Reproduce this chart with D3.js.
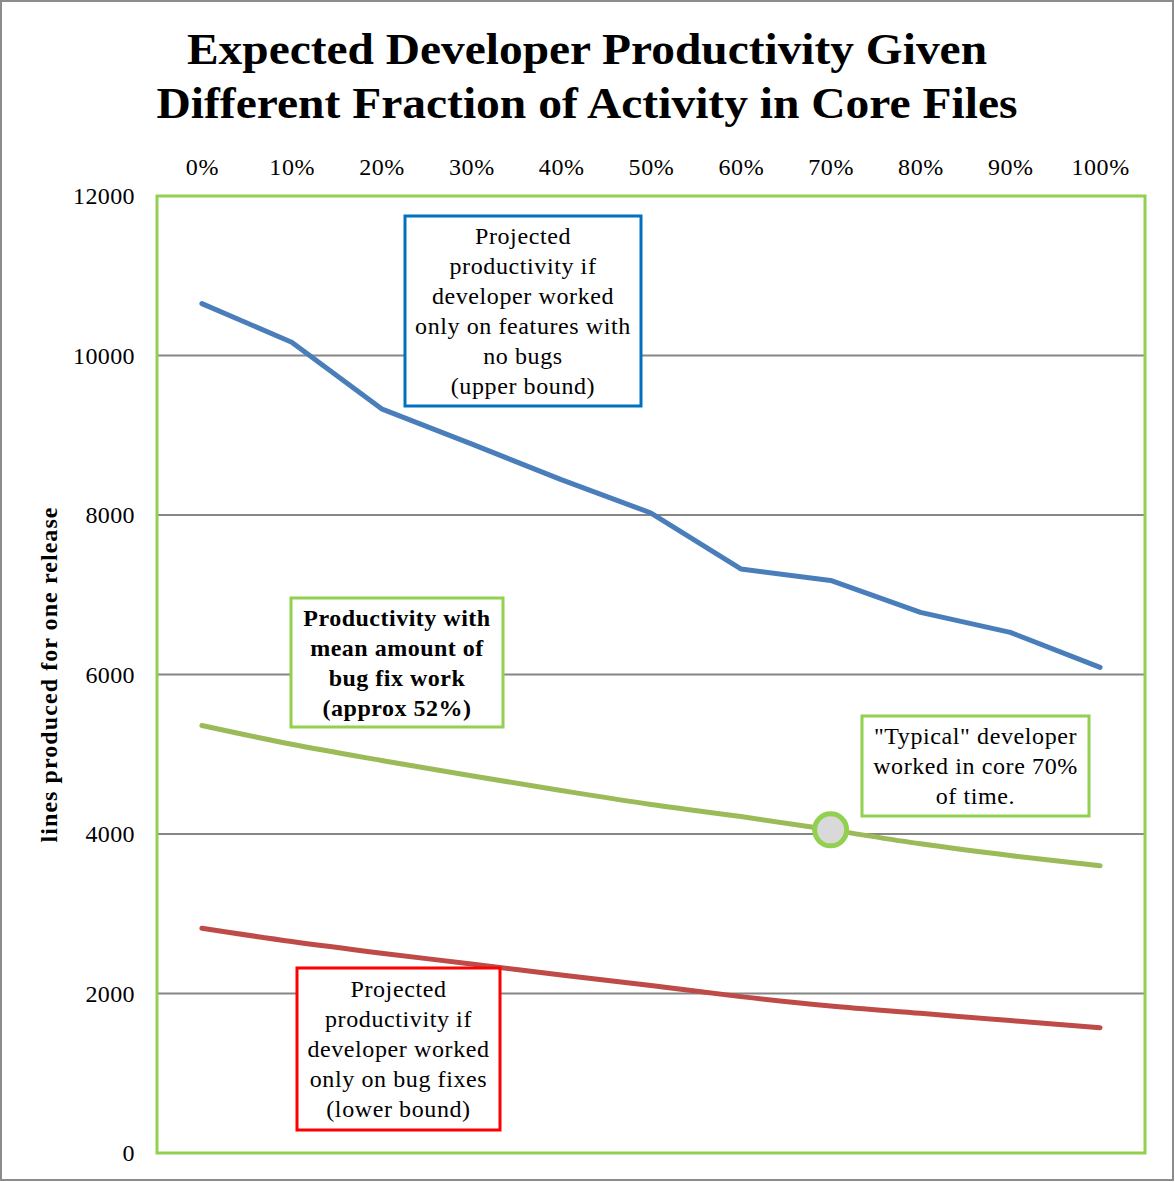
<!DOCTYPE html>
<html><head><meta charset="utf-8">
<script src="https://cdn.jsdelivr.net/npm/d3@7"></script>
<style>html,body{margin:0;padding:0;background:#fff}svg{display:block}</style>
</head><body>
<script>
const categories = ["0%","10%","20%","30%","40%","50%","60%","70%","80%","90%","100%"];
const upperBound = [10651,10166,9331,8892,8443,8025,7323,7180,6779,6528,6089];
const meanWork   = [5361,5125,4922,4730,4545,4370,4219,4052,3877,3730,3601];
const lowerBound = [2819,2651,2505,2371,2233,2099,1961,1844,1752,1660,1572];
const yTicks = [0,2000,4000,6000,8000,10000,12000];
const titleLines = ["Expected Developer Productivity Given","Different Fraction of  Activity in Core Files"];
const yTitle = "lines produced for one release";
const highlightIndex = 7;
const notes = [
  {lines:["Projected","productivity if","developer worked","only on features with","no bugs","(upper bound)"], box:[405,216,641,406], color:"#0070C0", bold:false},
  {lines:["Productivity with","mean amount of","bug fix work","(approx 52%)"], box:[291,598,503,727], color:"#92D050", bold:true},
  {lines:["Projected","productivity if","developer worked","only on bug fixes","(lower bound)"], box:[297,968,500,1130], color:"#FF0000", bold:false},
  {lines:["\"Typical\" developer","worked in core 70%","of time."], box:[862,716,1089,816], color:"#92D050", bold:false}
];

const W=1175,H=1182;
const font = "'Liberation Serif','DejaVu Serif',serif";
const svg = d3.select("body").append("svg").attr("width",W).attr("height",H);
svg.append("rect").attr("x",1).attr("y",1).attr("width",W-3).attr("height",H-3)
  .attr("fill","#fff").attr("stroke","#8c8c8c").attr("stroke-width",2);

const L=157,R=1145,T=196,B=1153;
const x = d3.scalePoint().domain(categories).range([L,R]).padding(0.5);
const y = d3.scaleLinear().domain([0,12000]).range([B,T]);

// title
const titleLens=[800,861];
svg.append("g").selectAll("text").data(titleLines).join("text")
  .attr("x",587).attr("y",(d,i)=>64+i*54).attr("text-anchor","middle")
  .attr("font-family",font).attr("font-weight","bold").attr("font-size",44)
  .attr("textLength",(d,i)=>titleLens[i]).attr("lengthAdjust","spacingAndGlyphs")
  .attr("fill","#000").text(d=>d);

// gridlines
svg.append("g").selectAll("line").data(yTicks.filter(v=>v>0&&v<12000)).join("line")
  .attr("x1",L).attr("x2",R).attr("y1",d=>y(d)).attr("y2",d=>y(d))
  .attr("stroke","#868686").attr("stroke-width",2);

// y axis
const yAxis = svg.append("g").attr("transform",`translate(${L},0)`)
  .call(d3.axisLeft(y).tickValues(yTicks).tickSize(0).tickPadding(22).tickFormat(d3.format("d")));
yAxis.select(".domain").remove();
yAxis.selectAll("text").attr("font-family",font).attr("font-size",24).attr("letter-spacing",0.4).attr("fill","#000");

// x axis at top
const xAxis = svg.append("g").attr("transform",`translate(0,${T})`)
  .call(d3.axisTop(x).tickSize(0).tickPadding(21));
xAxis.select(".domain").remove();
xAxis.selectAll("text").attr("font-family",font).attr("font-size",24).attr("letter-spacing",0.6).attr("fill","#000");

// y title
svg.append("text").attr("transform","translate(57,675) rotate(-90)").attr("text-anchor","middle")
  .attr("font-family",font).attr("font-weight","bold").attr("font-size",24)
  .attr("textLength",335).attr("fill","#000").text(yTitle);

// plot frame
svg.append("rect").attr("x",L).attr("y",T).attr("width",R-L).attr("height",B-T)
  .attr("fill","none").attr("stroke","#92D050").attr("stroke-width",3);

// lines
const lineStraight = d3.line().x((d,i)=>x(categories[i])).y(d=>y(d));
const lineSmooth = d3.line().x((d,i)=>x(categories[i])).y(d=>y(d)).curve(d3.curveCatmullRom.alpha(0.5));
const series = [
  {data:upperBound, color:"#4A7EBB", gen:lineStraight},
  {data:meanWork, color:"#9BBB59", gen:lineSmooth},
  {data:lowerBound, color:"#BE4B48", gen:lineSmooth}
];
svg.append("g").selectAll("path").data(series).join("path")
  .attr("d",d=>d.gen(d.data)).attr("fill","none").attr("stroke",d=>d.color)
  .attr("stroke-width",5).attr("stroke-linecap","round").attr("stroke-linejoin","round");

// highlight marker
svg.append("circle").attr("cx",x(categories[highlightIndex])).attr("cy",y(meanWork[highlightIndex]))
  .attr("r",16).attr("fill","#D9D9D9").attr("stroke","#92D050").attr("stroke-width",5);

// notes
const ng = svg.append("g").selectAll("g").data(notes).join("g");
ng.append("rect").attr("x",d=>d.box[0]).attr("y",d=>d.box[1])
  .attr("width",d=>d.box[2]-d.box[0]).attr("height",d=>d.box[3]-d.box[1])
  .attr("fill","#fff").attr("stroke",d=>d.color).attr("stroke-width",3);
ng.each(function(d){
  const cx=(d.box[0]+d.box[2])/2, cy=(d.box[1]+d.box[3])/2;
  const lh=30, n=d.lines.length;
  d3.select(this).selectAll("text").data(d.lines).join("text")
    .attr("x",cx).attr("y",(t,i)=>cy+(i-(n-1)/2)*lh+8)
    .attr("text-anchor","middle").attr("font-family",font).attr("font-size",24)
    .attr("letter-spacing",d.bold?0.5:0.6)
    .attr("font-weight",d.bold?"bold":"normal").attr("fill","#000").text(t=>t);
});
</script>
</body></html>
